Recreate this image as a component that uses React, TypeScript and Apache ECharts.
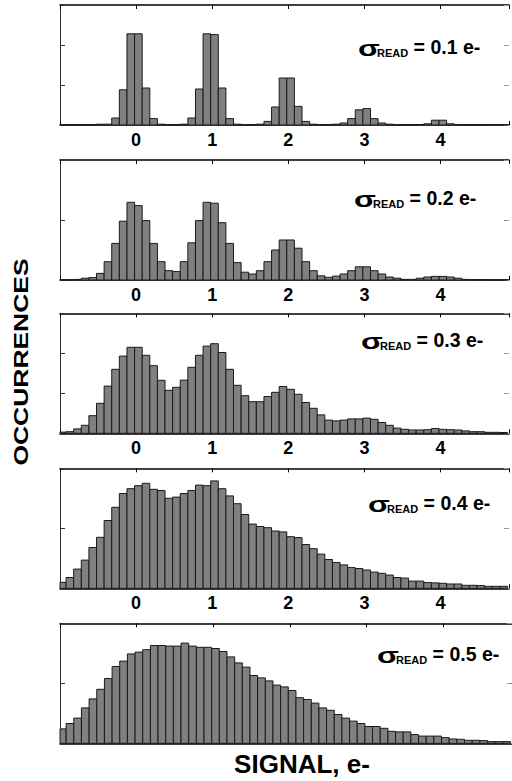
import React, { useEffect, useRef } from "react";
import * as echarts from "echarts";

// Histogram bins: width 0.1 e-, first bin edge at -1.02 e-
const BIN_START = -1.02;
const BIN_WIDTH = 0.1;
const X_MIN = -1;
const X_MAX = 4.9;
const TICK_VALUES = [0, 1, 2, 3, 4];
const TICK_LABELS = ["0", "1", "2", "3", "4"];
const SIGMA_VALUES = ["0.1", "0.2", "0.3", "0.4", "0.5"];
const Y_MAX = [3, 2, 3, 2, 2];

const counts01 = [
  0, 0, 0, 0, 0, 0.02, 0.02, 0.175, 0.88, 2.28,
  2.28, 0.925, 0.16, 0.02, 0, 0, 0.02, 0.175, 0.9, 2.28,
  2.26, 0.925, 0.16, 0.02, 0, 0, 0.02, 0.09, 0.45, 1.175,
  1.175, 0.465, 0.09, 0.02, 0, 0, 0.02, 0.05, 0.16, 0.38,
  0.41, 0.16, 0.05, 0.02, 0, 0, 0, 0.01, 0.03, 0.12,
  0.12, 0.03, 0.01, 0, 0, 0, 0.01, 0.01, 0.01,
];
const counts02 = [
  0, 0, 0.01, 0.03, 0.04, 0.11, 0.305, 0.61, 0.98, 1.295,
  1.24, 0.99, 0.61, 0.305, 0.155, 0.14, 0.305, 0.62, 0.99, 1.295,
  1.28, 0.955, 0.61, 0.29, 0.13, 0.1, 0.155, 0.305, 0.5, 0.667,
  0.667, 0.53, 0.305, 0.155, 0.07, 0.045, 0.065, 0.1, 0.155, 0.22,
  0.22, 0.155, 0.1, 0.05, 0.03, 0.01, 0.01, 0.03, 0.05, 0.06,
  0.06, 0.05, 0.03, 0.01, 0.005, 0.005, 0, 0, 0,
];
const counts03 = [
  0.03, 0.04, 0.11, 0.2, 0.44, 0.75, 1.18, 1.6, 1.93, 2.15,
  2.15, 1.95, 1.69, 1.325, 1.075, 1.15, 1.33, 1.65, 1.95, 2.18,
  2.24, 2.02, 1.6, 1.2, 0.94, 0.79, 0.79, 0.92, 1.025, 1.17,
  1.1, 0.975, 0.77, 0.625, 0.46, 0.33, 0.31, 0.33, 0.36, 0.36,
  0.38, 0.35, 0.27, 0.2, 0.13, 0.1, 0.083, 0.083, 0.09, 0.12,
  0.1, 0.09, 0.083, 0.06, 0.04, 0.04, 0.025, 0.025, 0.02,
];
const counts04 = [
  0.1, 0.18, 0.32, 0.47, 0.68, 0.85, 1.13, 1.35, 1.58, 1.66,
  1.71, 1.75, 1.65, 1.63, 1.5, 1.52, 1.58, 1.63, 1.72, 1.71,
  1.79, 1.66, 1.54, 1.41, 1.23, 1.07, 1.03, 1.01, 0.955, 0.94,
  0.86, 0.845, 0.73, 0.66, 0.57, 0.48, 0.43, 0.39, 0.345, 0.33,
  0.305, 0.27, 0.25, 0.22, 0.18, 0.17, 0.12, 0.12, 0.095, 0.09,
  0.083, 0.072, 0.072, 0.05, 0.05, 0.045, 0.033, 0.033, 0.033,
];
const counts05 = [
  0.24, 0.33, 0.42, 0.59, 0.74, 0.9, 1.08, 1.28, 1.37, 1.49,
  1.52, 1.56, 1.63, 1.63, 1.62, 1.62, 1.67, 1.62, 1.6, 1.6,
  1.58, 1.53, 1.44, 1.34, 1.27, 1.13, 1.09, 1.04, 0.97, 0.94,
  0.88, 0.76, 0.73, 0.67, 0.59, 0.55, 0.48, 0.42, 0.37, 0.33,
  0.28, 0.28, 0.25, 0.2, 0.19, 0.19, 0.145, 0.12, 0.12, 0.12,
  0.095, 0.072, 0.067, 0.05, 0.05, 0.045, 0.028, 0.028, 0.028,
];
const PANELS = [counts01, counts02, counts03, counts04, counts05];

const FONT = "'Liberation Sans', Arial, Helvetica, sans-serif";
const GRID_TOPS = [5, 160, 313.3, 468.3, 623.3];
const GRID_H = 120;
const GRID_LEFT = 60;
const GRID_W = 453;
const SIGMA_POS = [
  [358, 47],
  [354, 198],
  [361, 340],
  [368, 503],
  [377, 654],
];
const SIGMA_W = 19;

export default function App() {
  const ref = useRef<HTMLDivElement>(null);
  useEffect(() => {
    if (!ref.current) return;
    const chart = echarts.init(ref.current, undefined, { renderer: "svg" });

    const grids: any[] = [];
    const xAxes: any[] = [];
    const yAxes: any[] = [];
    const series: any[] = [];

    PANELS.forEach((counts, i) => {
      grids.push({ left: GRID_LEFT, top: GRID_TOPS[i], width: GRID_W, height: GRID_H, containLabel: false });
      const axisCommon = {
        type: "value",
        gridIndex: i,
        min: X_MIN,
        max: X_MAX,
        interval: 1,
        splitLine: { show: false },
        axisLine: { show: true, onZero: false, lineStyle: { color: "#000", width: 1.5 } },
        axisTick: { show: true, inside: true, length: 4, lineStyle: { color: "#000", width: 1 } },
      };
      xAxes.push({
        ...axisCommon,
        position: "bottom",
        axisLabel: {
          show: i < 4,
          margin: 6,
          color: "#000",
          fontSize: 18,
          fontWeight: "bold",
          fontFamily: FONT,
          formatter: (v: number) => {
            const idx = TICK_VALUES.indexOf(Math.round(v * 1000) / 1000);
            return idx >= 0 ? TICK_LABELS[idx] : "";
          },
        },
      });
      xAxes.push({ ...axisCommon, position: "top", axisLabel: { show: false } });
      const yCommon = {
        type: "value",
        gridIndex: i,
        min: 0,
        max: Y_MAX[i],
        interval: 1,
        splitLine: { show: false },
        axisLabel: { show: false },
        axisTick: { show: true, inside: true, length: 5, lineStyle: { color: "#333", width: 1 } },
      };
      yAxes.push({
        ...yCommon,
        position: "left",
        axisLine: { show: true, onZero: false, lineStyle: { color: "#333", width: 1 } },
      });
      yAxes.push({
        ...yCommon,
        position: "right",
        axisLine: { show: false, onZero: false },
        axisTick: { show: true, inside: true, length: 5, lineStyle: { color: "#999", width: 1 } },
      });

      const data = counts.map((c, k) => [
        BIN_START + k * BIN_WIDTH,
        BIN_START + (k + 1) * BIN_WIDTH,
        c,
      ]);
      series.push({
        type: "custom",
        xAxisIndex: i * 2,
        yAxisIndex: i * 2,
        data,
        encode: { x: [0, 1], y: 2 },
        renderItem: (params: any, api: any) => {
          const x0 = Math.max(api.value(0), X_MIN);
          const x1 = Math.min(api.value(1), X_MAX);
          const y = api.value(2);
          const p0 = api.coord([x0, 0]);
          const p1 = api.coord([x1, y]);
          return {
            type: "rect",
            shape: { x: p0[0], y: p1[1], width: p1[0] - p0[0], height: p0[1] - p1[1] },
            style: { fill: "#808080", stroke: "#1a1a1a", lineWidth: 1 },
          };
        },
      });
    });

    const graphics: any[] = [];
    SIGMA_VALUES.forEach((s, i) => {
      graphics.push({
        type: "text",
        x: SIGMA_POS[i][0],
        y: SIGMA_POS[i][1] + 1,
        scaleX: 1.45,
        z: 100,
        style: {
          text: "σ",
          fontSize: 22,
          fontWeight: "bold",
          fontFamily: FONT,
          fill: "#000",
          align: "left",
          verticalAlign: "middle",
        },
      });
      graphics.push({
        type: "text",
        x: SIGMA_POS[i][0] + SIGMA_W,
        y: SIGMA_POS[i][1],
        z: 100,
        style: {
          text: `{r|READ}{m| = ${s} e-}`,
          align: "left",
          verticalAlign: "middle",
          rich: {
            r: { fontSize: 11, fontWeight: "bold", fontFamily: FONT, fill: "#000", lineHeight: 8, verticalAlign: "bottom" },
            m: { fontSize: 19.5, fontWeight: "bold", fontFamily: FONT, fill: "#000", lineHeight: 22, verticalAlign: "middle" },
          },
        },
      });
    });
    graphics.push({
      type: "text",
      x: 20.5,
      y: 362,
      rotation: Math.PI / 2,
      scaleX: 1.26,
      style: {
        text: "OCCURRENCES",
        fontSize: 21,
        fontWeight: "bold",
        fontFamily: FONT,
        fill: "#000",
        align: "center",
        verticalAlign: "middle",
      },
    });
    graphics.push({
      type: "text",
      x: 302,
      y: 764,
      style: {
        text: "SIGNAL, e-",
        fontSize: 26,
        fontWeight: "bold",
        fontFamily: FONT,
        fill: "#000",
        align: "center",
        verticalAlign: "middle",
      },
    });

    chart.setOption({
      animation: false,
      backgroundColor: "#fff",
      grid: grids,
      xAxis: xAxes,
      yAxis: yAxes,
      series,
      graphic: graphics,
    });
    return () => chart.dispose();
  }, []);
  return (
    <div
      ref={ref}
      style={{ position: "absolute", left: 0, top: 0, width: 512, height: 781, background: "#fff" }}
    />
  );
}
